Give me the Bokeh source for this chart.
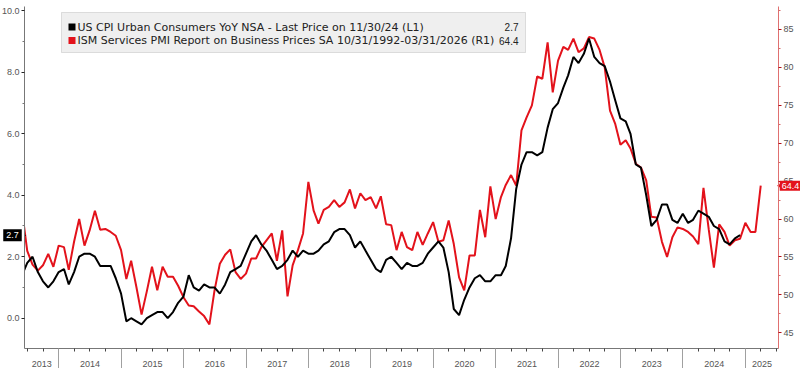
import math
import pandas as pd
from bokeh.plotting import figure
from bokeh.models import (Range1d, LinearAxis, DatetimeAxis, FixedTicker, DatetimeTickFormatter,
                          BoxAnnotation, Label, NumeralTickFormatter)
from bokeh.embed import file_html
from bokeh.resources import INLINE

# ---------------- data ----------------
cpi_start = "2013-05-31"
cpi_values = [
    1.4, 1.8, 2.0, 1.5, 1.2, 1.0, 1.2, 1.5,                      # 2013 May-Dec
    1.6, 1.1, 1.5, 2.0, 2.1, 2.1, 2.0, 1.7, 1.7, 1.7, 1.3, 0.8,  # 2014
    -0.1, 0.0, -0.1, -0.2, 0.0, 0.1, 0.2, 0.2, 0.0, 0.2, 0.5, 0.7,  # 2015
    1.4, 1.0, 0.9, 1.1, 1.0, 1.0, 0.8, 1.1, 1.5, 1.6, 1.7, 2.1,  # 2016
    2.5, 2.7, 2.4, 2.2, 1.9, 1.6, 1.7, 1.9, 2.2, 2.0, 2.2, 2.1,  # 2017
    2.1, 2.2, 2.4, 2.5, 2.8, 2.9, 2.9, 2.7, 2.3, 2.5, 2.2, 1.9,  # 2018
    1.6, 1.5, 1.9, 2.0, 1.8, 1.6, 1.8, 1.7, 1.7, 1.8, 2.1, 2.3,  # 2019
    2.5, 2.3, 1.5, 0.3, 0.1, 0.6, 1.0, 1.3, 1.4, 1.2, 1.2, 1.4,  # 2020
    1.4, 1.7, 2.6, 4.2, 5.0, 5.4, 5.4, 5.3, 5.4, 6.2, 6.8, 7.0,  # 2021
    7.5, 7.9, 8.5, 8.3, 8.6, 9.1, 8.5, 8.3, 8.2, 7.7, 7.1, 6.5,  # 2022
    6.4, 6.0, 5.0, 4.9, 4.0, 3.0, 3.2, 3.7, 3.7, 3.2, 3.1, 3.4,  # 2023
    3.1, 3.2, 3.5, 3.4, 3.3, 3.0, 2.9, 2.5, 2.4, 2.6, 2.7,       # 2024 Jan-Nov
]

ism_start = "2013-05-31"
ism_values = [
    61.0, 55.8, 54.0, 53.2, 53.9, 55.4, 53.7, 56.5,                    # 2013 May-Dec
    56.3, 53.3, 57.0, 60.0, 56.5, 58.5, 61.1, 58.6, 58.7, 58.3, 57.8, 55.9,  # 2014
    52.1, 54.5, 51.0, 47.4, 50.5, 53.7, 50.6, 53.7, 52.4, 52.4, 51.2, 49.7,  # 2015
    48.6, 48.5, 47.8, 47.2, 46.1, 50.6, 54.1, 55.3, 56.0, 53.0, 52.1, 52.8,  # 2016
    54.8, 54.8, 56.3, 57.2, 58.1, 54.5, 58.5, 49.8, 53.9, 55.9, 58.1, 64.9,  # 2017
    61.1, 59.4, 61.2, 61.6, 62.5, 61.6, 62.2, 63.9, 61.4, 63.4, 62.5, 62.9,  # 2018
    61.4, 63.0, 59.3, 59.2, 55.9, 58.3, 56.3, 55.9, 58.3, 56.6, 58.1, 59.6,  # 2019
    57.0, 57.2, 59.8, 56.7, 52.3, 50.6, 55.2, 55.2, 61.2, 57.6, 64.3, 60.0,  # 2020
    62.9, 64.5, 65.8, 64.4, 71.7, 73.4, 75.0, 78.8, 78.5, 83.3, 76.7, 80.9,  # 2021
    82.7, 82.3, 83.8, 82.0, 82.5, 84.0, 83.8, 82.3, 80.0, 74.3, 72.6, 69.8,  # 2022
    70.4, 69.3, 67.3, 66.8, 65.1, 60.3, 60.2, 57.0, 55.0, 57.6, 58.9, 58.7,  # 2023
    58.3, 57.7, 56.7, 64.1, 58.6, 53.6, 59.3, 58.3, 56.5, 57.2, 57.4, 59.5,  # 2024
    58.3, 58.3, 64.4,                                                        # 2025 Jan-Mar
]

years = list(range(2013, 2026))
left_ticks = [0, 2, 4, 6, 8, 10]
right_ticks = [45, 50, 55, 60, 65, 70, 75, 80, 85]

legend_texts = ["US CPI Urban Consumers YoY NSA - Last Price on 11/30/24 (L1)",
                "ISM Services PMI Report on Business Prices SA 10/31/1992-03/31/2026 (R1)"]
legend_values = ["2.7", "64.4"]

# ---------------- layout / styling ----------------
RED = "#e3121b"
FONT = "Liberation Sans"
LFONT = "DejaVu Sans"
W, H = 800, 368
# plot box (in canvas pixels) and the values at its edges
BX0, BX1, BY0, BY1 = 24, 778, 6, 348
d0, d1 = pd.Timestamp("2013-06-14"), pd.Timestamp("2025-07-13")
L_BOT, L_TOP = -0.985, 10.14
R_BOT, R_TOP = 42.93, 88.03


def ms(ts):
    return pd.Timestamp(ts).value / 1e6


def extend(lo, hi, p_lo, p_hi, n_lo, n_hi):
    per = (hi - lo) / (p_hi - p_lo)
    return lo - per * n_lo, hi + per * n_hi


MS_PER_PX = (ms(d1) - ms(d0)) / (BX1 - BX0)
xs, xe = extend(ms(d0), ms(d1), BX0, BX1, BX0, W - BX1)
ys, ye = extend(L_BOT, L_TOP, BY0, BY1, H - BY1, BY0)
rs, re_ = extend(R_BOT, R_TOP, BY0, BY1, H - BY1, BY0)

cpi_dates = pd.date_range(cpi_start, periods=len(cpi_values), freq=pd.offsets.MonthEnd())
ism_dates = pd.date_range(ism_start, periods=len(ism_values), freq=pd.offsets.MonthEnd())

p = figure(width=W, height=H, x_axis_type="datetime", output_backend="svg",
           toolbar_location=None, title=None,
           x_range=Range1d(xs, xe), y_range=Range1d(ys, ye), min_border=0)
p.min_border_left = p.min_border_right = p.min_border_top = p.min_border_bottom = 0
p.extra_y_ranges = {"r": Range1d(rs, re_)}
p.grid.visible = False
p.outline_line_color = None
p.background_fill_color = "white"
p.border_fill_color = "white"

p.line(ism_dates, ism_values, color=RED, line_width=2, y_range_name="r")
p.line(cpi_dates, cpi_values, color="black", line_width=2)
# white mask left of the plot box (lines start just before the first visible date)
p.add_layout(BoxAnnotation(right=ms(d0), fill_color="white", fill_alpha=1,
                           line_color=None, level="glyph"))

# ---- bottom axis 1: axis line and quarterly ticks (no labels)
quarter_ticks = [ms(pd.Timestamp(y, m, 1)) for y in years for m in (4, 7, 10)
                 if d0 <= pd.Timestamp(y, m, 1) <= d1]
ax1 = p.xaxis[0]
ax1.ticker = FixedTicker(ticks=[], minor_ticks=quarter_ticks)
ax1.fixed_location = L_BOT
ax1.bounds = (ms(d0), ms(d1))
ax1.major_tick_out = 0
ax1.major_tick_in = 0
ax1.minor_tick_out = 3
ax1.minor_tick_in = 0
ax1.minor_tick_line_color = "#444444"
ax1.axis_line_color = "#777777"

# ---- bottom axis 2: year labels centred in each (visible part of a) year, year separators
sep_ticks = [ms(pd.Timestamp(y, 1, 1)) for y in years if d0 <= pd.Timestamp(y, 1, 1) <= d1]
label_ticks = []
for y in years:
    a = max(pd.Timestamp(y, 1, 1), d0)
    b = min(pd.Timestamp(y + 1, 1, 1), d1)
    label_ticks.append((ms(a) + ms(b)) / 2)
fmt = DatetimeTickFormatter(microseconds="%Y", milliseconds="%Y", seconds="%Y", minsec="%Y",
                            minutes="%Y", hourmin="%Y", hours="%Y", days="%Y", months="%Y",
                            years="%Y")
ax2 = DatetimeAxis(ticker=FixedTicker(ticks=label_ticks, minor_ticks=sep_ticks), formatter=fmt,
                   fixed_location=L_BOT, bounds=(ms(d0), ms(d1)))
ax2.axis_line_color = None
ax2.major_tick_line_color = None
ax2.major_tick_out = 0
ax2.major_tick_in = 0
ax2.minor_tick_out = 20
ax2.minor_tick_in = 0
ax2.minor_tick_line_color = "#a0a0a0"
ax2.major_label_standoff = -8
ax2.major_label_text_font = FONT
ax2.major_label_text_font_size = "9px"
ax2.major_label_text_color = "#555555"
p.add_layout(ax2, "below")

# ---- left axis
ly = p.yaxis[0]
ly.ticker = FixedTicker(ticks=left_ticks, minor_ticks=[t + 1 for t in left_ticks[:-1]])
ly.formatter = NumeralTickFormatter(format="0.0")
ly.fixed_location = ms(d0)
ly.bounds = (L_BOT, L_TOP)
ly.major_label_text_font = FONT
ly.major_label_text_font_size = "9px"
ly.major_label_text_color = "#555555"
ly.major_label_standoff = 2
ly.major_tick_out = 3
ly.major_tick_in = 0
ly.minor_tick_out = 2
ly.minor_tick_in = 0
ly.major_tick_line_color = "#222222"
ly.minor_tick_line_color = "#777777"
ly.axis_line_color = "#777777"

# ---- right axis
ry = LinearAxis(y_range_name="r", fixed_location=ms(d1), bounds=(R_BOT, R_TOP),
                ticker=FixedTicker(ticks=right_ticks, minor_ticks=[t + 2.5 for t in right_ticks]))
ry.major_label_text_font = FONT
ry.major_label_text_font_size = "9px"
ry.major_label_text_color = "#555555"
ry.major_label_standoff = 2
ry.major_tick_out = 3
ry.major_tick_in = 0
ry.minor_tick_out = 2
ry.minor_tick_in = 0
ry.major_tick_line_color = "#b01018"
ry.minor_tick_line_color = "#d46a6a"
ry.axis_line_color = "#e07070"
p.add_layout(ry, "right")

# ---- last value tags on the axes (box + small pointer)
p.scatter(x=[ms(d0) - 3 * MS_PER_PX], y=[cpi_values[-1]], marker="triangle", size=8,
          angle=-math.pi / 2, fill_color="black", line_color=None)
p.scatter(x=[ms(d1) + 3 * MS_PER_PX], y=[ism_values[-1]], y_range_name="r", marker="triangle",
          size=8, angle=math.pi / 2, fill_color=RED, line_color=None)
p.add_layout(Label(x=ms(d0), y=cpi_values[-1], x_offset=-12, text=legend_values[0],
                   text_align="center", text_baseline="middle", text_color="white",
                   text_font=FONT, text_font_size="9px", background_fill_color="black",
                   padding=3))
p.add_layout(Label(x=ms(d1), y=ism_values[-1], y_range_name="r", x_offset=12,
                   text=legend_values[1], text_align="center", text_baseline="middle",
                   text_color="white", text_font=FONT, text_font_size="9px",
                   background_fill_color=RED, padding=2))


# ---- legend box (screen units: from canvas bottom-left)
def sy(py):
    return H - py


p.add_layout(BoxAnnotation(left=61, right=525, top=sy(12), bottom=sy(52),
                           left_units="screen", right_units="screen",
                           top_units="screen", bottom_units="screen",
                           fill_color="#efefef", fill_alpha=1, line_color="#9a9a9a",
                           line_width=1, level="overlay"))
for i, (txt, val, col) in enumerate(zip(legend_texts, legend_values, ["black", RED])):
    cy = 26.5 + 13.5 * i
    p.add_layout(BoxAnnotation(left=68, right=75, top=sy(cy - 3.5), bottom=sy(cy + 3.5),
                               left_units="screen", right_units="screen",
                               top_units="screen", bottom_units="screen",
                               fill_color=col, fill_alpha=1, line_color=None, level="overlay"))
    p.add_layout(Label(x=77, y=sy(cy), x_units="screen", y_units="screen", text=txt,
                       text_align="left", text_baseline="middle", text_font=LFONT,
                       text_font_size="11px", text_color="#222222", level="overlay"))
    p.add_layout(Label(x=518, y=sy(cy), x_units="screen", y_units="screen", text=val,
                       text_align="right", text_baseline="middle", text_font=FONT,
                       text_font_size="10px", text_color="#222222", level="overlay"))

open("out.html", "w").write(file_html(p, INLINE))
